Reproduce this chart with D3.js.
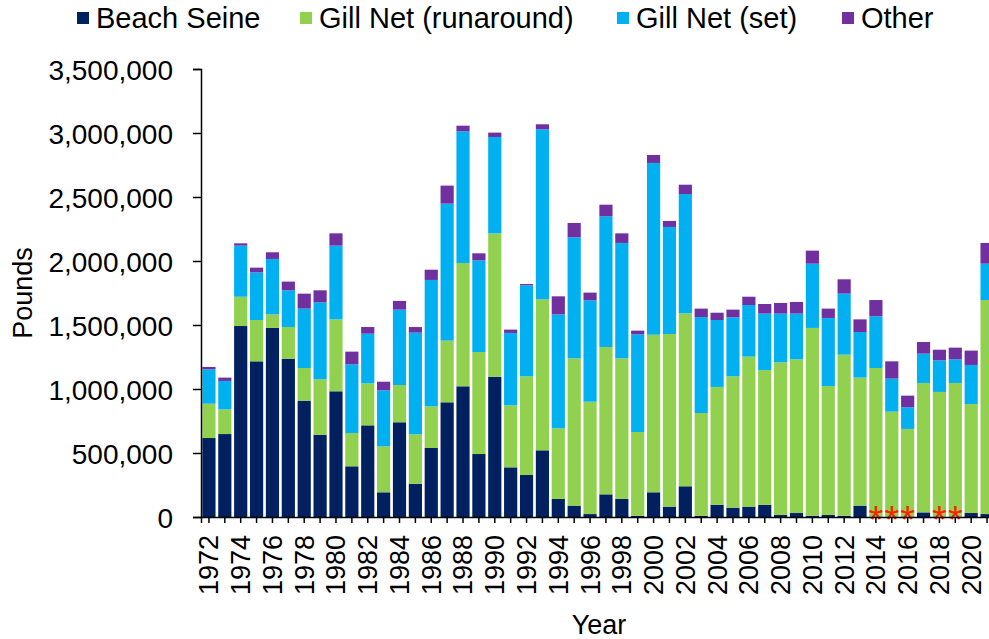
<!DOCTYPE html>
<html>
<head>
<meta charset="utf-8">
<script src="https://cdnjs.cloudflare.com/ajax/libs/d3/7.8.5/d3.min.js"></script>
<style>
  body { margin: 0; background: #fff; }
  text { font-family: "Liberation Sans", Arial, sans-serif; fill: #000; }
</style>
</head>
<body>
<svg width="989" height="639"></svg>
<script>
var years = d3.range(1972, 2022);

// pounds landed, by gear
var beachSeine = [617000,648000,1492000,1216000,1477000,1237000,909000,643000,982000,396000,
                  716000,193000,740000,260000,539000,896000,1021000,492000,1096000,388000,
                  328000,521000,141000,89000,23000,177000,141000,10000,193000,81000,
                  240000,10000,96000,73000,81000,96000,16000,31000,10000,16000,
                  10000,89000,0,0,0,36000,0,0,31000,23000];
var gillNetRunaround = [268000,193000,229000,323000,106000,247000,255000,433000,562000,260000,
                  328000,359000,291000,386000,326000,482000,963000,797000,1120000,484000,
                  771000,1180000,552000,1151000,878000,1151000,1099000,654000,1231000,1349000,
                  1351000,802000,920000,1026000,1172000,1052000,1192000,1201000,1467000,1007000,
                  1258000,1000000,1164000,823000,688000,1011000,977000,1047000,852000,1672000];
var gillNetSet = [269000,222000,399000,372000,433000,287000,464000,601000,576000,537000,
                  388000,438000,589000,794000,987000,1070000,1029000,716000,753000,566000,
                  711000,1328000,890000,945000,792000,1021000,901000,763000,1342000,836000,
                  932000,750000,523000,461000,403000,441000,381000,357000,502000,532000,
                  477000,356000,404000,258000,169000,229000,247000,185000,305000,284000];
var other = [18000,26000,18000,37000,52000,68000,117000,94000,96000,99000,
             52000,67000,68000,44000,80000,141000,44000,55000,34000,26000,
             10000,39000,141000,112000,60000,91000,75000,29000,62000,47000,
             73000,66000,57000,60000,65000,75000,83000,91000,102000,73000,
             112000,99000,127000,135000,91000,91000,83000,91000,112000,162000];

var seriesNames = ["Beach Seine", "Gill Net (runaround)", "Gill Net (set)", "Other"];
var seriesKeys = ["bs", "gnr", "gns", "oth"];
var yTicks = [0,500000,1000000,1500000,2000000,2500000,3000000,3500000];
var starYears = [2014, 2015, 2016, 2018, 2019];

var colors = {bs: "#002060", gnr: "#92D050", gns: "#00B0F0", oth: "#7030A0"};

var svg = d3.select("svg"),
    margin = {top: 69, left: 201},
    width = 794,
    height = 448;

var table = years.map(function(y, i) {
  return {year: y, bs: beachSeine[i], gnr: gillNetRunaround[i], gns: gillNetSet[i], oth: other[i]};
});

var stack = d3.stack().keys(seriesKeys)(table);

var x = d3.scaleBand()
    .domain(years)
    .range([0, width])
    .paddingInner(0.17)
    .paddingOuter(0.085);

var y = d3.scaleLinear()
    .domain([0, 3500000])
    .range([height, 0]);

var g = svg.append("g").attr("transform", "translate(" + margin.left + "," + margin.top + ")");

g.selectAll(".series")
  .data(stack)
  .enter().append("g")
    .attr("class", "series")
    .attr("fill", function(d) { return colors[d.key]; })
  .selectAll("rect")
  .data(function(d) { return d; })
  .enter().append("rect")
    .attr("x", function(d) { return x(d.data.year); })
    .attr("y", function(d) { return y(d[1]); })
    .attr("width", x.bandwidth())
    .attr("height", function(d) { return y(d[0]) - y(d[1]); });

// confidential years
g.selectAll(".star")
  .data(starYears)
  .enter().append("text")
    .attr("class", "star")
    .attr("x", function(d) { return x(d) + x.bandwidth() / 2; })
    .attr("y", height + 16)
    .attr("text-anchor", "middle")
    .style("font-size", "38px")
    .style("fill", "#FF2200")
    .text("*");

// y axis
var yAxis = g.append("g")
    .call(d3.axisLeft(y).tickValues(yTicks).tickFormat(d3.format(",")).tickSizeOuter(0).tickSize(8).tickPadding(20));
yAxis.select(".domain").attr("stroke", "#000").attr("stroke-width", 1.5);
yAxis.selectAll(".tick line").attr("stroke", "#000").attr("stroke-width", 1.5);
yAxis.selectAll("text").style("font-size", "28px").attr("dy", "0.36em");

// x axis
var xAxis = g.append("g")
    .attr("transform", "translate(0," + height + ")")
    .call(d3.axisBottom(x).tickSizeOuter(0).tickSize(6)
      .tickFormat(function(d) { return d % 2 === 0 ? d : ""; }));
xAxis.select(".domain").attr("stroke", "#000").attr("stroke-width", 1.5);
xAxis.selectAll(".tick line").attr("stroke", "#000").attr("stroke-width", 1.5);
xAxis.selectAll("text")
    .style("font-size", "27px")
    .attr("transform", "rotate(-90)")
    .attr("text-anchor", "end")
    .attr("x", -18)
    .attr("y", 0)
    .attr("dy", "0.35em");

svg.append("text")
    .attr("transform", "translate(32," + (margin.top + height / 2) + ") rotate(-90)")
    .attr("text-anchor", "middle")
    .style("font-size", "27px")
    .text("Pounds");

svg.append("text")
    .attr("x", 599)
    .attr("y", 634)
    .attr("text-anchor", "middle")
    .style("font-size", "27px")
    .text("Year");

// legend
var legendX = [77, 300, 617, 842];
var legend = svg.selectAll(".legend")
  .data(seriesKeys)
  .enter().append("g")
    .attr("class", "legend")
    .attr("transform", function(d, i) { return "translate(" + legendX[i] + ",0)"; });

legend.append("rect")
    .attr("y", 12)
    .attr("width", 12)
    .attr("height", 12)
    .attr("fill", function(d) { return colors[d]; });

legend.append("text")
    .attr("x", 19)
    .attr("y", 28)
    .style("font-size", "29px")
    .text(function(d, i) { return seriesNames[i]; });
</script>
</body>
</html>
